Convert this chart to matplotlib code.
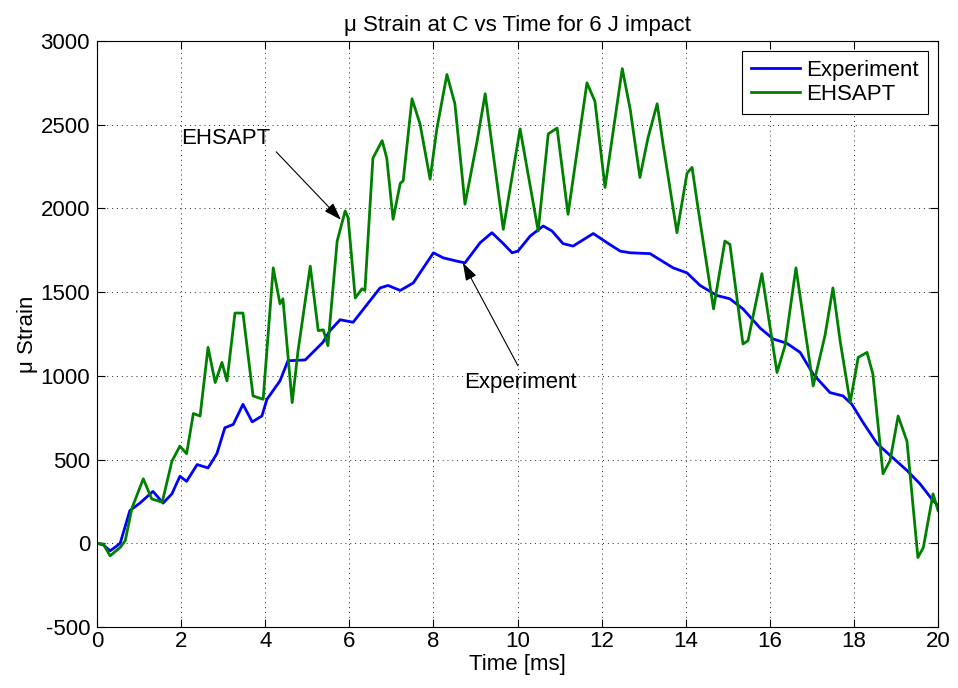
import matplotlib
matplotlib.use('Agg')
import matplotlib.pyplot as plt

# values
exp_t = [0.0, 0.15, 0.31, 0.45, 0.55, 0.78, 1.02, 1.33, 1.57, 1.78, 1.97, 2.13,
         2.38, 2.64, 2.85, 3.04, 3.24, 3.47, 3.69, 3.92, 4.04, 4.35, 4.54, 4.95,
         5.37, 5.54, 5.78, 6.09, 6.73, 6.92, 7.21, 7.52, 8.0, 8.23, 8.56, 8.75,
         9.11, 9.39, 9.66, 9.87, 10.01, 10.30, 10.61, 10.82, 11.08, 11.32, 11.80,
         12.13, 12.44, 12.68, 13.15, 13.70, 14.03, 14.34, 14.74, 15.05, 15.36,
         15.77, 16.08, 16.40, 16.72, 17.03, 17.43, 17.74, 17.95, 18.22, 18.55,
         18.86, 19.26, 19.57, 19.88, 20.0]
exp_strain = [0, -10, -45, -20, 0, 195, 240, 310, 240, 295, 400, 370,
              470, 450, 535, 690, 710, 830, 725, 760, 860, 970, 1090, 1095,
              1200, 1270, 1335, 1320, 1525, 1540, 1510, 1555, 1735, 1705, 1685, 1675,
              1795, 1855, 1790, 1735, 1745, 1835, 1895, 1865, 1790, 1775, 1850,
              1795, 1745, 1735, 1730, 1645, 1615, 1540, 1480, 1460, 1400,
              1285, 1220, 1195, 1140, 1010, 900, 880, 830, 720, 595,
              525, 435, 355, 255, 225]

ehsapt_t = [0.0, 0.15, 0.31, 0.55, 0.67, 0.83, 1.10, 1.30, 1.55, 1.78, 1.97, 2.13,
            2.29, 2.45, 2.64, 2.81, 2.97, 3.09, 3.28, 3.47, 3.71, 3.95, 4.19, 4.35,
            4.42, 4.64, 4.78, 5.07, 5.26, 5.38, 5.49, 5.71, 5.90, 5.97, 6.14, 6.30,
            6.37, 6.56, 6.78, 6.89, 7.04, 7.21, 7.28, 7.49, 7.68, 7.92, 8.08, 8.32,
            8.51, 8.75, 9.04, 9.23, 9.66, 10.06, 10.49, 10.73, 10.94, 11.20, 11.65,
            11.84, 12.08, 12.49, 12.68, 12.91, 13.10, 13.32, 13.46, 13.79, 14.03,
            14.15, 14.29, 14.66, 14.93, 15.05, 15.36, 15.48, 15.81, 16.17, 16.36,
            16.62, 17.03, 17.31, 17.50, 17.67, 17.91, 18.10, 18.31, 18.45, 18.69,
            18.86, 19.05, 19.26, 19.52, 19.65, 19.88, 20.0]
ehsapt_strain = [0, -5, -75, -25, 15, 210, 385, 265, 245, 490, 580, 535,
                 775, 760, 1170, 960, 1080, 970, 1375, 1375, 880, 860, 1645, 1430,
                 1460, 840, 1150, 1655, 1270, 1275, 1180, 1805, 1985, 1945, 1465, 1520,
                 1510, 2300, 2405, 2300, 1935, 2150, 2165, 2655, 2505, 2175, 2475, 2800,
                 2625, 2025, 2405, 2685, 1875, 2475, 1865, 2445, 2480, 1965, 2750,
                 2640, 2125, 2835, 2590, 2185, 2420, 2625, 2385, 1855, 2210,
                 2245, 2005, 1400, 1805, 1785, 1190, 1210, 1610, 1020, 1180,
                 1645, 940, 1240, 1525, 1210, 840, 1110, 1140, 1010, 415,
                 495, 760, 610, -85, -25, 295, 195]

x_ticks = [0, 2, 4, 6, 8, 10, 12, 14, 16, 18, 20]
y_ticks = [-500, 0, 500, 1000, 1500, 2000, 2500, 3000]

plt.rcParams['font.family'] = ['Liberation Sans', 'DejaVu Sans']
plt.rcParams['axes.unicode_minus'] = False
fs = 16

fig = plt.figure(figsize=(9.58, 6.88), dpi=100)
ax = fig.add_axes([0.1013, 0.0887, 0.8779, 0.8517])

ax.plot(exp_t, exp_strain, color=(0, 0, 1), lw=2.0, label='Experiment')
ax.plot(ehsapt_t, ehsapt_strain, color=(0, 0.5, 0), lw=2.0, label='EHSAPT')

ax.set_xlim(0, 20)
ax.set_ylim(-500, 3000)
ax.set_xticks(x_ticks)
ax.set_yticks(y_ticks)
ax.tick_params(direction='in', top=True, right=True, length=6, width=0.8,
               labelsize=fs)
ax.tick_params(axis='y', pad=5)
ax.tick_params(axis='x', pad=3)
ax.grid(True, color='0.15', linestyle=(0, (1, 4)), linewidth=0.7)
for s in ax.spines.values():
    s.set_linewidth(0.8)

ax.set_title('μ Strain at C vs Time for 6 J impact', fontsize=fs, pad=7)
ax.set_xlabel('Time [ms]', fontsize=fs, labelpad=1)
ax.set_ylabel('μ Strain', fontsize=fs, labelpad=2)

# annotations
arrow = dict(arrowstyle='-|>,head_length=0.9,head_width=0.3', color='k',
             lw=0.8, mutation_scale=12, shrinkA=0, shrinkB=0)
ax.text(3.07, 2420, 'EHSAPT', fontsize=fs, ha='center', va='center')
ax.annotate('', xy=(5.80, 1932), xytext=(4.26, 2338), arrowprops=arrow)
ax.text(10.06, 959, 'Experiment', fontsize=fs, ha='center', va='center')
ax.annotate('', xy=(8.70, 1675), xytext=(10.01, 1060), arrowprops=arrow)

leg = ax.legend(loc='upper right', fontsize=fs, fancybox=False, framealpha=1,
                edgecolor='k', handlelength=2.2, handletextpad=0.3,
                borderaxespad=0.45, labelspacing=0.15)
leg.get_frame().set_linewidth(0.8)

fig.savefig('out.png', dpi=100)
